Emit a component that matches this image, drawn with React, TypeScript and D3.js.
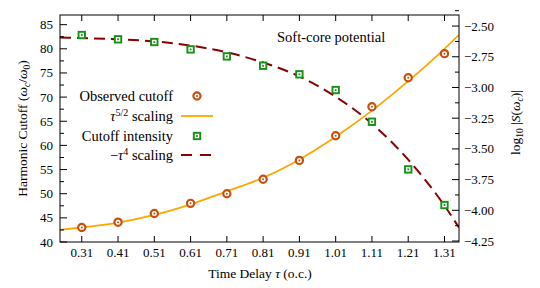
import * as d3 from 'd3'

// measured cutoff / intensity at each time delay
const delays = [0.31, 0.41, 0.51, 0.61, 0.71, 0.81, 0.91, 1.01, 1.11, 1.21, 1.31]
const cutoff = [43, 44.1, 45.9, 48, 50, 53, 56.9, 62, 68, 74, 79]
const intensity = [-2.573, -2.608, -2.63, -2.69, -2.747, -2.823, -2.893, -3.021, -3.279, -3.667, -3.957]

// scaling curves
const curveDelays = [0.25, 0.31, 0.41, 0.51, 0.61, 0.71, 0.81, 0.91, 1.01, 1.11, 1.21, 1.31, 1.35]
const fitCutoff = [42.5, 43.0, 44.0, 45.6, 47.8, 50.5, 53.3, 57.1, 61.8, 67.2, 73.3, 80.0, 82.9]
const fitIntensity = [-2.594, -2.598, -2.607, -2.625, -2.659, -2.714, -2.797, -2.91, -3.075, -3.295, -3.588, -3.962, -4.14]

const leftTicks = [40, 45, 50, 55, 60, 65, 70, 75, 80, 85]
const rightTicks = [-2.5, -2.75, -3.0, -3.25, -3.5, -3.75, -4.0, -4.25]

const W = 540
const H = 288
const m = { left: 60, right: 459, top: 15, bottom: 242 }
const FONT = '"Liberation Serif", "DejaVu Serif", serif'
const CIRC = '#c8500a'
const SQ = '#169016'
const ORANGE = '#ffa500'
const DARKRED = '#8b0000'

const x = d3.scaleLinear().domain([0.25, 1.35]).range([m.left, m.right])
const yL = d3.scaleLinear().domain([40, 87]).range([m.bottom, m.top])
const yR = d3.scaleLinear().domain([-4.258, -2.41]).range([m.bottom, m.top])

const fmtR = (v: number) => (v < 0 ? '\u2212' : '') + Math.abs(v).toFixed(2)

function Circ({ cx, cy }: { cx: number; cy: number }) {
  return (
    <g>
      <circle cx={cx} cy={cy} r={3.6} fill="white" stroke={CIRC} strokeWidth={2.2} />
      <circle cx={cx} cy={cy} r={1} fill={CIRC} />
    </g>
  )
}

function Sq({ cx, cy }: { cx: number; cy: number }) {
  return (
    <g>
      <rect x={cx - 3.2} y={cy - 3.2} width={6.4} height={6.4} fill="white" stroke={SQ} strokeWidth={1.9} />
      <rect x={cx - 0.9} y={cy - 0.9} width={1.8} height={1.8} fill={SQ} />
    </g>
  )
}

export default function App() {
  const fitLineL = d3.line<number>()
    .x((_, i) => x(curveDelays[i]))
    .y(d => yL(d))
    .curve(d3.curveMonotoneX)
  const fitLineR = d3.line<number>()
    .x((_, i) => x(curveDelays[i]))
    .y(d => yR(d))
    .curve(d3.curveMonotoneX)

  const leftMinor = d3.range(42.5, 87, 5)
  const rightMinor = d3.range(-2.375, -4.26, -0.25)

  // legend rows
  const lgX = 173
  const lgM = 197
  const rows = [96, 116, 136, 155]

  return (
    <svg width={W} height={H} style={{ position: 'absolute', left: 0, top: 0, background: 'white' }}
      fontFamily={FONT}>
      <defs>
        <clipPath id="plot">
          <rect x={m.left} y={m.top} width={m.right - m.left} height={m.bottom - m.top} />
        </clipPath>
      </defs>

      {/* curves and markers */}
      <g clipPath="url(#plot)">
        <path d={fitLineL(fitCutoff) ?? ''} fill="none" stroke={ORANGE} strokeWidth={1.8} />
        <path d={fitLineR(fitIntensity) ?? ''} fill="none" stroke={DARKRED} strokeWidth={2}
          strokeDasharray="11,6" />
        {delays.map((d, i) => <Sq key={'s' + i} cx={x(d)} cy={yR(intensity[i])} />)}
        {delays.map((d, i) => <Circ key={'c' + i} cx={x(d)} cy={yL(cutoff[i])} />)}
      </g>

      {/* frame */}
      <rect x={m.left} y={m.top} width={m.right - m.left} height={m.bottom - m.top}
        fill="none" stroke="black" strokeWidth={1} />

      {/* x ticks, bottom and top, pointing in */}
      {delays.map(d => (
        <g key={'xt' + d}>
          <line x1={x(d)} x2={x(d)} y1={m.bottom} y2={m.bottom - 6} stroke="black" />
          <line x1={x(d)} x2={x(d)} y1={m.top} y2={m.top + 6} stroke="black" />
          <text x={x(d)} y={257} fontSize={13} textAnchor="middle">{d.toFixed(2)}</text>
        </g>
      ))}

      {/* left axis */}
      {leftTicks.map(v => (
        <g key={'lt' + v}>
          <line x1={m.left} x2={m.left + 7} y1={yL(v)} y2={yL(v)} stroke="black" />
          <text x={53} y={yL(v) + 4.5} fontSize={13} textAnchor="end">{v}</text>
        </g>
      ))}
      {leftMinor.map(v => (
        <line key={'lm' + v} x1={m.left} x2={m.left + 4} y1={yL(v)} y2={yL(v)} stroke="black" />
      ))}

      {/* right axis */}
      {rightTicks.map(v => (
        <g key={'rt' + v}>
          <line x1={m.right} x2={m.right - 7} y1={yR(v)} y2={yR(v)} stroke="black" />
          <text x={464} y={yR(v) + 4.5} fontSize={13}>{fmtR(v)}</text>
        </g>
      ))}
      {rightMinor.map(v => (
        <line key={'rm' + v} x1={m.right} x2={m.right - 4} y1={yR(v)} y2={yR(v)} stroke="black" />
      ))}

      {/* axis titles */}
      <text x={(m.left + m.right) / 2 + 0.5} y={278} fontSize={13.5} textAnchor="middle">
        Time Delay <tspan fontStyle="italic">τ</tspan> (o.c.)
      </text>
      <text transform={`translate(27,${(m.top + m.bottom) / 2}) rotate(-90)`} fontSize={13.5} textAnchor="middle">
        Harmonic Cutoff (<tspan fontStyle="italic">ω</tspan><tspan fontSize={9.5} dy={3} fontStyle="italic">c</tspan>
        <tspan dy={-3}>/</tspan><tspan fontStyle="italic">ω</tspan><tspan fontSize={9.5} dy={3}>0</tspan><tspan dy={-3}>)</tspan>
      </text>
      <text transform={`translate(520,${(m.top + m.bottom) / 2 - 6}) rotate(-90)`} fontSize={13.5} textAnchor="middle">
        log<tspan fontSize={9.5} dy={3}>10</tspan><tspan dy={-3}> |</tspan><tspan fontStyle="italic">S</tspan>(<tspan fontStyle="italic">ω</tspan><tspan fontSize={9.5} dy={3} fontStyle="italic">c</tspan><tspan dy={-3}>)|</tspan>
      </text>

      {/* annotation */}
      <text x={277} y={42} fontSize={14.5}>Soft-core potential</text>

      {/* legend */}
      <text x={lgX} y={rows[0] + 4.5} fontSize={14.5} textAnchor="end">Observed cutoff</text>
      <Circ cx={lgM} cy={rows[0]} />
      <text x={lgX} y={rows[1] + 4.5} fontSize={14.5} textAnchor="end">
        <tspan fontStyle="italic">τ</tspan><tspan fontSize={10} dy={-5}>5/2</tspan><tspan dy={5}> scaling</tspan>
      </text>
      <line x1={181} x2={213} y1={rows[1]} y2={rows[1]} stroke={ORANGE} strokeWidth={1.8} />
      <text x={lgX} y={rows[2] + 4.5} fontSize={14.5} textAnchor="end">Cutoff intensity</text>
      <Sq cx={lgM} cy={rows[2]} />
      <text x={lgX} y={rows[3] + 4.5} fontSize={14.5} textAnchor="end">
        −<tspan fontStyle="italic">τ</tspan><tspan fontSize={10} dy={-5}>4</tspan><tspan dy={5}> scaling</tspan>
      </text>
      <line x1={181} x2={213} y1={rows[3]} y2={rows[3]} stroke={DARKRED} strokeWidth={2} strokeDasharray="11,8" />
    </svg>
  )
}
